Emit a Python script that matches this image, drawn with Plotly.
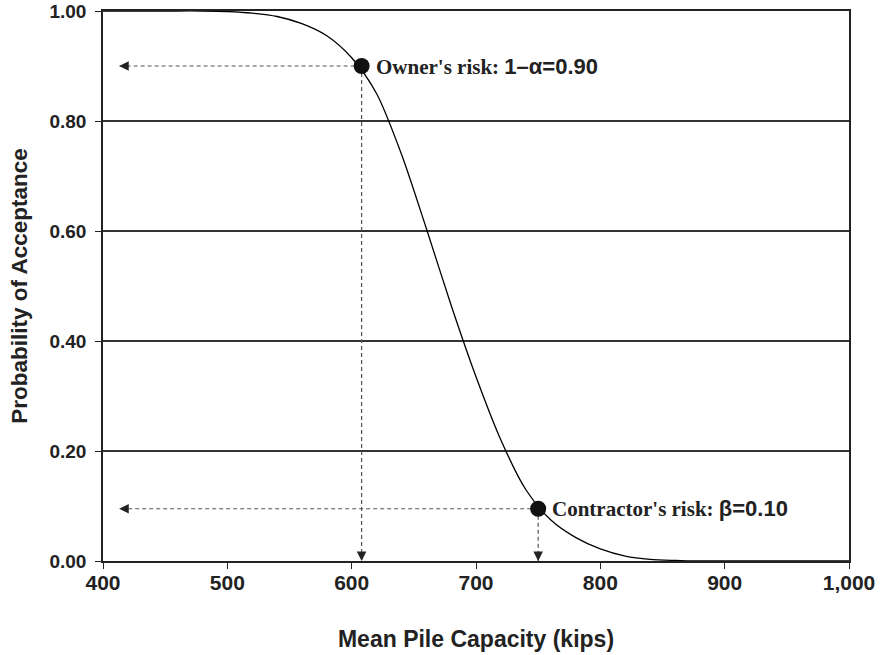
import plotly.graph_objects as go

# Operating characteristic curve
capacity = [400, 420, 440, 460, 480, 500, 520, 540, 560, 580, 600, 620, 640, 660, 680, 700,
            720, 740, 760, 780, 800, 820, 840, 860, 880, 900, 1000]
prob_accept = [1.0, 1.0, 1.0, 1.0, 1.0, 0.999, 0.996, 0.99, 0.977, 0.955, 0.915, 0.85, 0.74, 0.605,
               0.465, 0.335, 0.22, 0.13, 0.075, 0.043, 0.022, 0.009, 0.003, 0.001, 0.0, 0.0, 0.0]

risk_names = ["Owner's risk: ", "Contractor's risk: "]
risk_symbols = ["1\u2013\u03b1=0.90", "\u03b2=0.10"]
risk_capacity = [608, 750]
risk_prob = [0.90, 0.095]
arrow_left_end = 413

x_ticks = [400, 500, 600, 700, 800, 900, 1000]
x_ticklabels = ["400", "500", "600", "700", "800", "900", "1,000"]
y_ticks = [0, 0.2, 0.4, 0.6, 0.8, 1.0]
y_ticklabels = ["0.00", "0.20", "0.40", "0.60", "0.80", "1.00"]

INK = "#222222"
SANS = "Liberation Sans, Arial, sans-serif"

fig = go.Figure()

# dashed guide lines
for cx, py in zip(risk_capacity, risk_prob):
    fig.add_trace(go.Scatter(x=[cx, arrow_left_end], y=[py, py], mode="lines",
                             line=dict(color="#555555", width=1.2, dash="4px,3px"),
                             hoverinfo="skip", showlegend=False))
    fig.add_trace(go.Scatter(x=[cx, cx], y=[py, 0], mode="lines",
                             line=dict(color="#555555", width=1.2, dash="4px,3px"),
                             hoverinfo="skip", showlegend=False))

fig.add_trace(go.Scatter(x=capacity, y=prob_accept, mode="lines",
                         line=dict(color="black", width=1.3, shape="spline", smoothing=0.8),
                         showlegend=False))

fig.add_trace(go.Scatter(x=risk_capacity, y=risk_prob, mode="markers",
                         marker=dict(color="#111111", size=16, symbol="circle"),
                         showlegend=False))

# arrowheads
for cx, py in zip(risk_capacity, risk_prob):
    fig.add_annotation(x=arrow_left_end, y=py, ax=10, ay=0, text="", showarrow=True,
                       arrowhead=2, arrowsize=1.6, arrowwidth=1.2, arrowcolor=INK)
    fig.add_annotation(x=cx, y=0, ax=0, ay=-10, text="", showarrow=True,
                       arrowhead=2, arrowsize=1.6, arrowwidth=1.2, arrowcolor=INK)

for name, sym, cx, py in zip(risk_names, risk_symbols, risk_capacity, risk_prob):
    fig.add_annotation(x=cx, y=py, xshift=12, xanchor="left", yanchor="middle", showarrow=False,
                       text=("<b>" + name + "</b>" +
                             "<span style='font-family:Liberation Sans, Arial, sans-serif;font-size:22px'><b>" + sym + "</b></span>"),
                       font=dict(family="Liberation Serif, Times New Roman, serif", size=21, color=INK))

fig.update_layout(
    width=880, height=655,
    margin=dict(l=103, r=31, t=11, b=94),
    paper_bgcolor="white", plot_bgcolor="white",
    font=dict(family=SANS, color=INK),
    xaxis=dict(range=[400, 1000], tickvals=x_ticks, ticktext=x_ticklabels, automargin=False,
               showgrid=False, zeroline=False, showline=True, linecolor=INK, linewidth=1.5,
               mirror=True, ticks="outside", ticklen=6, tickwidth=1.3, tickcolor=INK,
               ticklabelstandoff=-4, ticklabeloverflow="allow",
               tickfont=dict(family=SANS, size=21, weight="bold"),
               title=dict(text="Mean Pile Capacity (kips)",
                          font=dict(family=SANS, size=23, weight="bold"),
                          standoff=38)),
    yaxis=dict(range=[0, 1], tickvals=y_ticks, ticktext=y_ticklabels, automargin=False,
               showgrid=True, gridcolor="#333333", gridwidth=1.5, zeroline=False,
               showline=True, linecolor=INK, linewidth=1.5, mirror=True,
               ticks="outside", ticklen=6, tickwidth=1.3, tickcolor=INK,
               ticklabelstandoff=5, ticklabeloverflow="allow",
               tickfont=dict(family=SANS, size=19, weight="bold"),
               title=dict(text="Probability of Acceptance",
                          font=dict(family=SANS, size=22.5, weight="bold"),
                          standoff=16)),
)

# remove the browser's default 8px body margin so the figure sits at the window's corner
fig.write_html("out.html", post_script="document.body.style.margin='0px';",
               config={"displayModeBar": False})
